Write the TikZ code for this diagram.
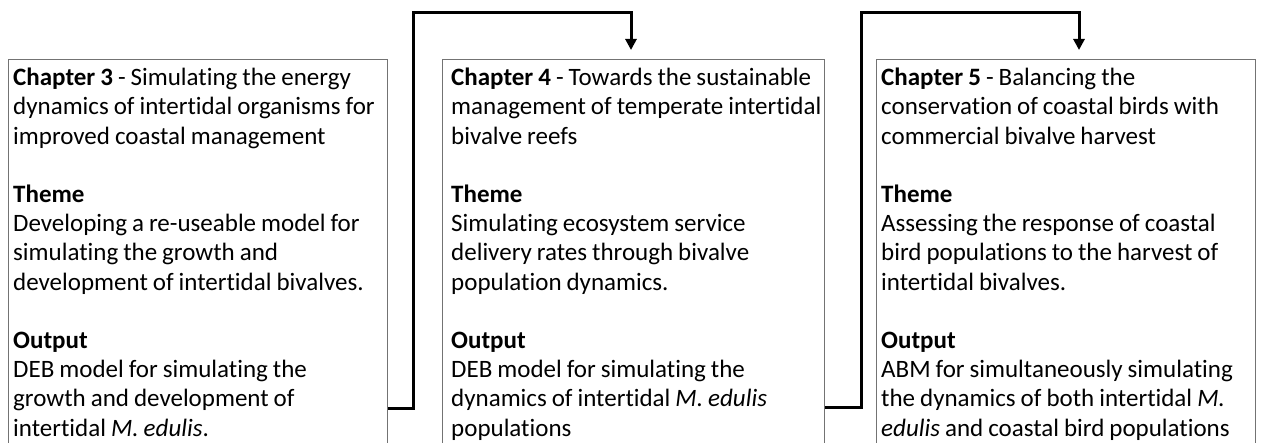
\documentclass[tikz,border=0pt]{standalone}
\usepackage{fontspec}
\setmainfont[Ligatures=NoCommon]{Carlito}
\usetikzlibrary{arrows.meta}
\newcommand\chapfnt{\fontsize{25}{29.2}\selectfont\spaceskip 0.2em plus 0.05em\relax}
\begin{document}
\begin{tikzpicture}[x=1pt,y=1pt,
  chapbox/.style={draw=black!55, line width=1.3pt, minimum height=420pt, anchor=north west, inner sep=0pt},
  chaptext/.style={anchor=north west, align=left, inner sep=0pt, font=\chapfnt},
  conn/.style={draw=black, line width=3pt, line join=miter, -{Triangle[width=11pt,length=11pt]}}
]
\useasboundingbox (0,0) rectangle (1263,443);
\begin{scope}
\clip (0,0) rectangle (1263,443);
\node[chapbox, minimum width=379pt] (c3) at (8,384) {};
\node[chapbox, minimum width=382pt] (c4) at (442,384) {};
\node[chapbox, minimum width=379pt] (c5) at (876,384) {};
\end{scope}

\node[chaptext] (t3) at (13,375) {\textbf{Chapter 3} - Simulating the energy\\
dynamics of intertidal organisms for\\
improved coastal management\\
~\\
\textbf{Theme}\\
Developing a re-useable model for\\
simulating the growth and\\
development of intertidal bivalves.\\
~\\
\textbf{Output}\\
DEB model for simulating the\\
growth and development of\\
intertidal \textit{M. edulis}.};

\node[chaptext] (t4) at (451,375) {\textbf{Chapter 4} - Towards the sustainable\\
management of temperate intertidal\\
bivalve reefs\\
~\\
\textbf{Theme}\\
Simulating ecosystem service\\
delivery rates through bivalve\\
population dynamics.\\
~\\
\textbf{Output}\\
DEB model for simulating the\\
dynamics of intertidal \textit{M. edulis}\\
populations};

\node[chaptext] (t5) at (881,375) {\textbf{Chapter 5} - Balancing the\\
conservation of coastal birds with\\
commercial bivalve harvest\\
~\\
\textbf{Theme}\\
Assessing the response of coastal\\
bird populations to the harvest of\\
intertidal bivalves.\\
~\\
\textbf{Output}\\
ABM for simultaneously simulating\\
the dynamics of both intertidal \textit{M.}\\
\textit{edulis} and coastal bird populations};

\coordinate (s1) at (413,34);
\coordinate (u1) at (413,430);
\coordinate (e1) at (631,393);
\coordinate (s2) at (861,35);
\coordinate (u2) at (861,430);
\coordinate (e2) at (1079,393);

\draw[conn] (c3.east |- s1) -- (s1) -- (u1) -| (e1);
\draw[conn] (c4.east |- s2) -- (s2) -- (u2) -| (e2);
\end{tikzpicture}
\end{document}
